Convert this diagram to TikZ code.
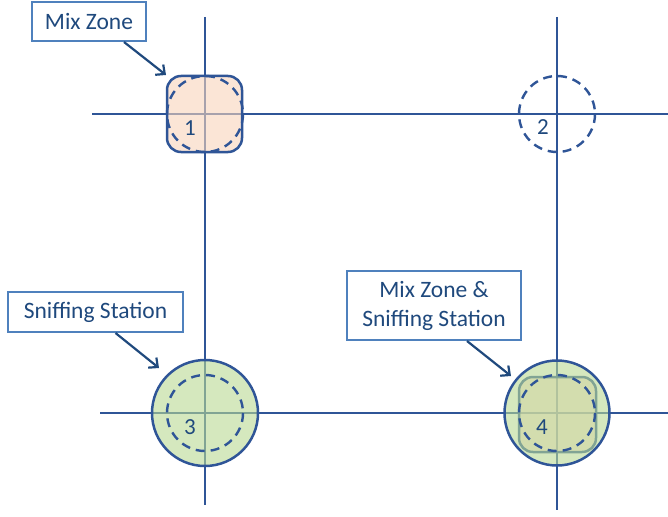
\documentclass[tikz,border=0pt]{standalone}
\usepackage{fontspec}
\setmainfont{Carlito}
\usetikzlibrary{arrows.meta}

\definecolor{roadblue}{RGB}{47,85,151}
\definecolor{boxblue}{RGB}{79,129,189}
\definecolor{inkblue}{RGB}{31,73,125}
\definecolor{peach}{RGB}{248,212,187}
\definecolor{leaf}{RGB}{185,217,147}

\tikzset{
  road/.style={line width=2.6pt, roadblue},
  mixzone/.style={line width=2.5pt, draw=roadblue, fill=peach, fill opacity=0.6, rounded corners=14pt},
  sniffer/.style={line width=2.5pt, draw=roadblue, fill=leaf, fill opacity=0.6},
  reachring/.style={line width=2.4pt, roadblue, dash pattern=on 9pt off 6pt},
  callout/.style={draw=boxblue, line width=2pt, fill=white, text=inkblue, inner sep=0pt,
    font=\fontsize{23.5}{29}\selectfont, align=center},
  pointer/.style={line width=2.2pt, inkblue, -{Straight Barb[length=7pt,width=13pt]}},
  num/.style={text=inkblue, font=\fontsize{23}{27}\selectfont}
}

\begin{document}
\begin{tikzpicture}[x=1pt, y=-1pt]

    \useasboundingbox (0,0) rectangle (668,516);

    % ==========================================
    % INTERSECTIONS
    % ==========================================
    \coordinate (c1) at (205,114);
    \coordinate (c2) at (557,114);
    \coordinate (c3) at (205,413);
    \coordinate (c4) at (557,413);

    % ==========================================
    % ROADS
    % Drawn first so the zones sit on top of them
    % ==========================================
    \draw[road] (205,17) -- (205,505);
    \draw[road] (557,17) -- (557,510);
    \draw[road] (92,114) -- (668,114);
    \draw[road] (100,413) -- (668,413);

    % ==========================================
    % ZONES
    % ==========================================

    % Mix zones (rounded squares)
    \draw[mixzone] (167,76) rectangle (242,152);
    \draw[mixzone] (519,377) rectangle (596,452);

    % Sniffing stations (filled circles)
    \draw[sniffer] (c3) circle (53);
    \draw[sniffer] (c4) circle (52.5);

    % Ranges (dashed circles)
    \foreach \c in {c1,c2,c3,c4}
        \draw[reachring] (\c) circle (38);

    % Numbers
    \node[num] (n1) at ([xshift=-15, yshift=-14]c1) {1};
    \node[num] (n2) at ([xshift=-14, yshift=-13]c2) {2};
    \node[num] (n3) at ([xshift=-15, yshift=-14]c3) {3};
    \node[num] (n4) at ([xshift=-15, yshift=-14]c4) {4};

    % ==========================================
    % CALLOUTS
    % ==========================================
    \node[callout, minimum width=114, minimum height=39] (mixlbl) at (89,21.5) {Mix Zone};
    \node[callout, minimum width=175, minimum height=40] (snifflbl) at (95.5,312) {Sniffing Station};
    \node[callout, minimum width=174, minimum height=69] (bothlbl) at (434,305.5) {Mix Zone \&\\Sniffing Station};

    \coordinate (t1) at (166,75);
    \coordinate (t3) at (159,368);
    \coordinate (t4) at (511,376);

    \draw[pointer] ([xshift=35]mixlbl.south) -- (t1);
    \draw[pointer] ([xshift=20]snifflbl.south) -- (t3);
    \draw[pointer] ([xshift=33]bothlbl.south) -- (t4);

\end{tikzpicture}
\end{document}
